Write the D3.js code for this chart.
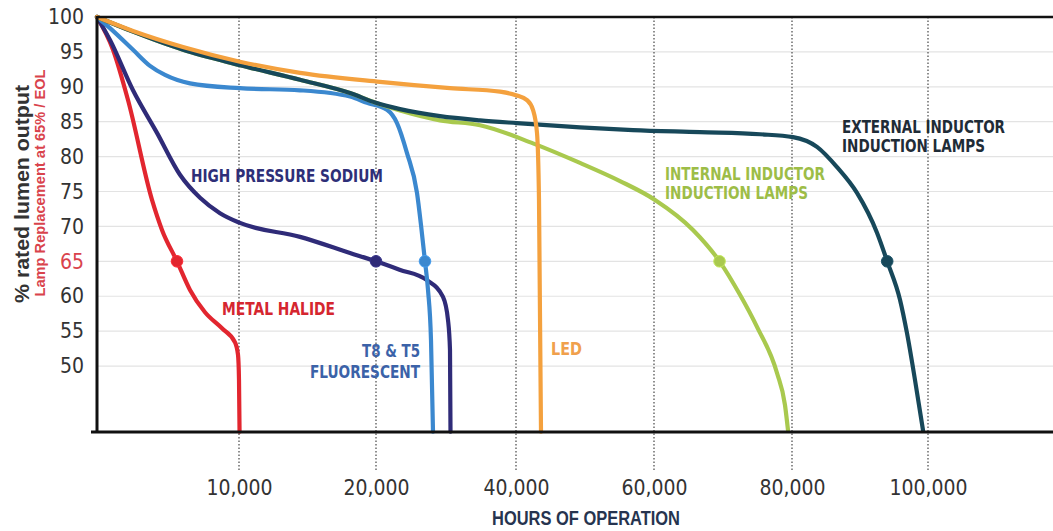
<!DOCTYPE html>
<html><head><meta charset="utf-8">
<script src="https://cdn.jsdelivr.net/npm/d3@7"></script>
<style>html,body{margin:0;padding:0;background:#fff;} svg{display:block;}</style>
</head><body>
<svg id="chart" width="1053" height="531"></svg>
<script>
// ---------- DATA ----------
const xTickValues = [0, 10000, 20000, 40000, 60000, 80000, 100000];
const xTickLabels = ["", "10,000", "20,000", "40,000", "60,000", "80,000", "100,000"];
const yTickValues = [50, 55, 60, 65, 70, 75, 80, 85, 90, 95, 100];
const replacementLevel = 65;

const metalHalide = [[0,100],[1127,95.3],[2183,88.1],[3873,73.8],[4577,69.5],[5634,65],[6549,60.9],[7605,57.7],[8803,55.4],[9718,53.4],[9930,51.6],[10000,48],[10040,40.6]];
const highPressureSodium = [[0,100],[915,96.7],[2535,89.5],[4225,83.4],[5845,77.4],[7254,74.1],[8662,71.9],[10073,70.5],[14453,68.5],[18103,66.2],[20000,65],[23360,63.8],[27286,62.3],[29571,59.9],[30286,56.6],[30571,52.3],[30643,40.6]];
const fluorescentT8T5 = [[0,100],[915,98.4],[2535,95.3],[3732,93.0],[4789,91.7],[6549,90.5],[10073,89.8],[14453,89.5],[18103,88.6],[19344,87.7],[21571,86.7],[23000,84.8],[24429,80.5],[25857,74.8],[26429,70.2],[27000,65],[27429,60.9],[27857,53.7],[28143,40.6]];
const led = [[0,100],[2535,98.0],[6056,95.7],[10073,93.6],[14453,92.0],[20571,90.7],[30571,89.8],[37714,89.3],[40000,88.8],[41594,88.1],[42464,86.7],[43043,83.4],[43333,73.8],[43623,40.6]];
const internalInductor = [[0,100],[2535,97.9],[6056,95.3],[10073,93.1],[14453,91.0],[18103,89.1],[20000,87.7],[23429,86.6],[29143,85.2],[34857,84.5],[42464,81.9],[49275,79.1],[55072,76.5],[60145,73.8],[65652,69.5],[69500,65],[72464,60.2],[74928,55.6],[77826,49.0],[78986,44.4],[79420,40.8]];
const externalInductor = [[0,100],[2535,97.9],[6056,95.3],[10073,93.1],[14453,91.0],[18103,89.1],[20000,87.7],[23429,86.8],[29143,85.8],[34857,85.2],[40145,84.8],[49275,84.2],[56957,83.8],[66667,83.5],[75362,83.2],[80147,82.8],[83676,81.4],[86618,78.5],[89559,74.8],[92500,69.1],[94000,65],[95882,59.5],[96912,54.7],[98088,48.0],[99265,40.8]];

const seriesKeys = ["metalHalide","highPressureSodium","fluorescentT8T5","internalInductor","externalInductor","led"];
const seriesData = {metalHalide, highPressureSodium, fluorescentT8T5, led, internalInductor, externalInductor};
const markerHours = {metalHalide:5634, highPressureSodium:20000, fluorescentT8T5:27000, led:null, internalInductor:69500, externalInductor:94000};
const seriesLabels = {
  metalHalide:["METAL HALIDE"],
  highPressureSodium:["HIGH PRESSURE SODIUM"],
  fluorescentT8T5:["T8 & T5","FLUORESCENT"],
  led:["LED"],
  internalInductor:["INTERNAL INDUCTOR","INDUCTION LAMPS"],
  externalInductor:["EXTERNAL INDUCTOR","INDUCTION LAMPS"]
};

(function(){
// ---------- STYLE / LAYOUT ----------
const lineColor = {metalHalide:"#e2262f", highPressureSodium:"#2f2b78", fluorescentT8T5:"#3b88cf", led:"#f4a13e", internalInductor:"#a9c94e", externalInductor:"#17485a"};
const labelColor = {metalHalide:"#d5262f", highPressureSodium:"#2e2f78", fluorescentT8T5:"#3b62a8", led:"#f0a04c", internalInductor:"#9dbd47", externalInductor:"#1f2c37"};
const labelLayout = {
  metalHalide:[[222,315,113,"start"]],
  highPressureSodium:[[191,182,192,"start"]],
  fluorescentT8T5:[[420,357,58,"end"],[420,378,110,"end"]],
  led:[[551,355,31,"start"]],
  internalInductor:[[665,180,160,"start"],[665,199,143,"start"]],
  externalInductor:[[842,133,163,"start"],[842,152,143,"start"]]
};

const svg = d3.select("#chart");
const pL = 97, pT = 17, pB = 432, pR = 1053;

const x = d3.scaleLinear().domain(xTickValues).range([97,239,376,516,654,792,928]);
const y = d3.scaleLinear().domain([40.55,100]).range([pB, pT]);

svg.append("rect").attr("width",1053).attr("height",531).attr("fill","#fff");

svg.append("g").selectAll("line").data(yTickValues.filter(v=>v<100)).join("line")
  .attr("x1",pL).attr("x2",pR).attr("y1",d=>y(d)).attr("y2",d=>y(d))
  .attr("stroke","#e3e3e3").attr("stroke-width",1.2);

svg.append("g").selectAll("line").data(xTickValues.slice(1)).join("line")
  .attr("x1",d=>x(d)).attr("x2",d=>x(d)).attr("y1",pT).attr("y2",472)
  .attr("stroke","#555").attr("stroke-width",1.3).attr("stroke-dasharray","1.5,2");

const xAxis = d3.axisBottom(x).tickValues(xTickValues.slice(1)).tickSize(0).tickPadding(0)
  .tickFormat((d)=>xTickLabels[xTickValues.indexOf(d)]);
const gx = svg.append("g").attr("transform",`translate(0,${pB})`).call(xAxis);
gx.select(".domain").remove();
gx.selectAll("text").attr("y",63).attr("dy",0)
  .attr("font-family","'Liberation Sans Narrow','DejaVu Sans Condensed',sans-serif")
  .attr("font-size",21).attr("fill","#333");

const yAxis = d3.axisLeft(y).tickValues(yTickValues).tickSize(0).tickPadding(13).tickFormat(d3.format("d"));
const gy = svg.append("g").attr("transform",`translate(${pL},0)`).call(yAxis);
gy.select(".domain").remove();
gy.selectAll("text")
  .attr("font-family","'Liberation Sans Narrow','DejaVu Sans Condensed',sans-serif")
  .attr("font-size",21).attr("fill",d=>d===replacementLevel?"#d9434c":"#333");

svg.append("text").attr("x",586).attr("y",525).attr("text-anchor","middle")
  .attr("font-family","'Liberation Sans Narrow',sans-serif").attr("font-weight","bold")
  .attr("font-size",20).attr("fill","#26344f")
  .attr("textLength",188).attr("lengthAdjust","spacingAndGlyphs")
  .text("HOURS OF OPERATION");
svg.append("text").attr("transform","translate(29,194) rotate(-90)").attr("text-anchor","middle")
  .attr("font-family","'Liberation Sans Narrow',sans-serif").attr("font-weight","bold")
  .attr("font-size",20).attr("fill","#333")
  .attr("textLength",218).attr("lengthAdjust","spacingAndGlyphs")
  .text("% rated lumen output");
svg.append("text").attr("transform","translate(45,183) rotate(-90)").attr("text-anchor","middle")
  .attr("font-family","'Liberation Sans Narrow',sans-serif").attr("font-weight","bold")
  .attr("font-size",15).attr("fill","#d9434c")
  .attr("textLength",227).attr("lengthAdjust","spacingAndGlyphs")
  .text("Lamp Replacement at 65% / EOL");

const line = d3.line().x(d=>x(d[0])).y(d=>y(d[1])).curve(d3.curveMonotoneX);
const gl = svg.append("g");
seriesKeys.forEach(k=>{
  gl.append("path").datum(seriesData[k]).attr("d",line)
    .attr("fill","none").attr("stroke",lineColor[k]).attr("stroke-width",4.2)
    .attr("stroke-linecap","round").attr("stroke-linejoin","round");
});
seriesKeys.filter(k=>markerHours[k]!==null).forEach(k=>{
  svg.append("circle").attr("cx",x(markerHours[k])).attr("cy",y(replacementLevel)).attr("r",5.8)
    .attr("fill",lineColor[k]).attr("stroke",d3.color(lineColor[k]).brighter(0.4)).attr("stroke-width",1);
});

seriesKeys.forEach(k=>{
  seriesLabels[k].forEach((t,i)=>{
    const [lx,ly,w,anchor] = labelLayout[k][i];
    svg.append("text").attr("x",lx).attr("y",ly).attr("text-anchor",anchor)
      .attr("font-family","'Liberation Sans Narrow','DejaVu Sans Condensed',sans-serif")
      .attr("font-weight","bold").attr("font-size",18).attr("fill",labelColor[k])
      .attr("textLength",w).attr("lengthAdjust","spacingAndGlyphs")
      .text(t);
  });
});

svg.append("line").attr("x1",pL).attr("x2",pR).attr("y1",pT).attr("y2",pT).attr("stroke","#111").attr("stroke-width",2.5);
svg.append("line").attr("x1",pL).attr("x2",pL).attr("y1",pT-1).attr("y2",pB+1).attr("stroke","#111").attr("stroke-width",3);
svg.append("line").attr("x1",91).attr("x2",pR).attr("y1",pB).attr("y2",pB).attr("stroke","#111").attr("stroke-width",3);
})();
</script>
</body></html>
